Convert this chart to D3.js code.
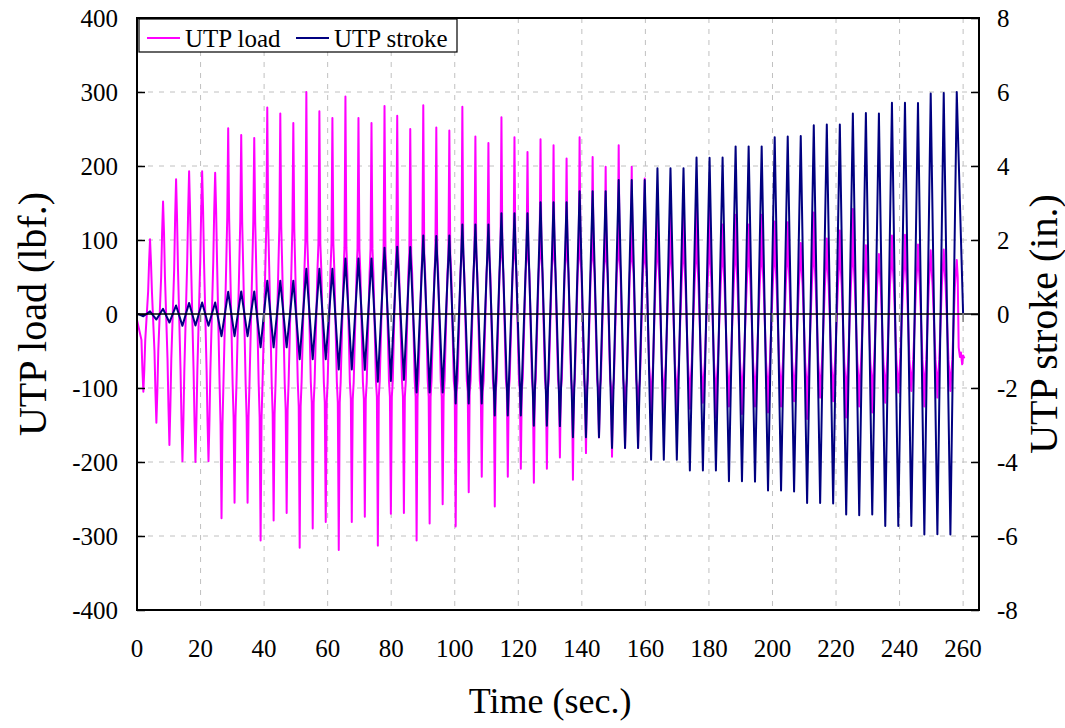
<!DOCTYPE html>
<html>
<head>
<meta charset="utf-8">
<script src="https://cdn.jsdelivr.net/npm/d3@7"></script>
<style>
  body { margin: 0; background: #fff; }
  svg text { font-family: "Liberation Serif", "Times New Roman", serif; fill: #000; }
</style>
</head>
<body>
<svg id="chart"></svg>
<script>
// cycle timing (sec.): stroke troughs and stroke peaks
const troughT = [2.0, 6.1, 10.2, 14.3, 18.4, 22.5, 26.6, 30.7, 34.8, 38.9, 43.0, 47.1, 51.2, 55.3, 59.4, 63.5,
  67.6, 71.7, 75.8, 79.9, 84.0, 88.0, 92.1, 96.2, 100.3, 104.4, 108.5, 112.6, 116.7, 120.8, 124.9, 129.0,
  133.1, 137.2, 141.3, 145.4, 149.5, 153.6, 157.7, 161.8, 165.8, 169.9, 174.0, 178.1, 182.2, 186.3, 190.4,
  194.5, 198.6, 202.7, 206.8, 210.9, 215.0, 219.1, 223.2, 227.3, 231.4, 235.5, 239.6, 243.7, 247.8, 251.9, 256.0];
const peakT = [4.1, 8.2, 12.3, 16.4, 20.5, 24.6, 28.7, 32.8, 36.9, 41.0, 45.1, 49.2, 53.3, 57.4, 61.5, 65.6,
  69.7, 73.8, 77.9, 81.9, 86.0, 90.1, 94.2, 98.3, 102.4, 106.5, 110.6, 114.7, 118.8, 122.9, 127.0, 131.1,
  135.2, 139.3, 143.4, 147.5, 151.6, 155.7, 159.8, 163.8, 167.9, 172.0, 176.1, 180.2, 184.3, 188.4, 192.5,
  196.6, 200.7, 204.8, 208.9, 213.0, 217.1, 221.2, 225.3, 229.4, 233.5, 237.6, 241.7, 245.8, 249.8, 253.9, 258.0];

// UTP stroke (in.) at each trough / peak
const strokeMin = [-0.06, -0.15, -0.23, -0.32, -0.31, -0.32, -0.60, -0.60, -0.60, -0.90, -0.90, -0.90,
  -1.22, -1.22, -1.22, -1.50, -1.50, -1.51, -1.83, -1.81, -1.78, -2.12, -2.12, -2.12, -2.42, -2.42, -2.42,
  -2.74, -2.74, -2.74, -3.02, -3.02, -3.03, -3.33, -3.33, -3.33, -3.62, -3.62, -3.62, -3.94, -3.94, -3.94,
  -4.23, -4.23, -4.23, -4.52, -4.52, -4.53, -4.77, -4.77, -4.80, -5.11, -5.11, -5.12, -5.42, -5.44, -5.42,
  -5.73, -5.73, -5.73, -5.96, -5.95, -5.96];
const strokeMax = [0.07, 0.14, 0.23, 0.30, 0.31, 0.31, 0.60, 0.61, 0.61, 0.90, 0.90, 0.90,
  1.22, 1.22, 1.22, 1.50, 1.50, 1.50, 1.79, 1.82, 1.81, 2.12, 2.11, 2.12, 2.42, 2.42, 2.42,
  2.72, 2.72, 2.72, 3.02, 3.02, 3.02, 3.32, 3.32, 3.32, 3.62, 3.62, 3.62, 3.94, 3.94, 3.94,
  4.23, 4.22, 4.23, 4.53, 4.53, 4.53, 4.78, 4.80, 4.81, 5.10, 5.12, 5.12, 5.42, 5.43, 5.42,
  5.71, 5.71, 5.70, 5.96, 5.97, 6.00];

// UTP load (lbf.) spikes at each trough / peak
const loadMin = [-105, -147, -177, -199, -200, -199, -276, -255, -255, -306, -279, -269, -316, -290, -281, -319,
  -281, -274, -313, -270, -269, -306, -283, -257, -287, -241, -220, -260, -220, -209, -228, -209,
  -194, -224, -188, -167, -193, -181, -181, -160, -150, -145, -128, -120, -140, -125, -135, -125,
  -133, -125, -118, -142, -113, -118, -140, -125, -133, -120, -106, -104, -125, -113, -104];
const loadMax = [101, 152, 182, 193, 193, 191, 251, 242, 238, 279, 271, 258, 300, 274, 265, 294,
  265, 258, 281, 268, 250, 282, 252, 248, 280, 240, 231, 266, 239, 219, 236, 228,
  210, 239, 212, 199, 228, 199, 183, 160, 150, 142, 145, 145, 121, 134, 121, 134,
  125, 124, 96, 137, 102, 113, 142, 93, 81, 106, 107, 94, 86, 87, 73];

// load shoulders next to the spikes (near) and on the plateaus (far)
const posNear = [70, 110, 130, 140, 140, 140, 130, 125, 125, 120, 118, 115, 100, 95, 95, 90,
  88, 88, 85, 85, 82, 82, 80, 80, 80, 78, 78, 78, 76, 75, 76, 75,
  74, 75, 74, 72, 74, 72, 70, 72, 70, 70, 70, 70, 66, 68, 66, 66,
  66, 66, 60, 66, 62, 62, 66, 60, 58, 62, 62, 60, 60, 60, 55];
const posFar = [30, 50, 60, 70, 70, 70, 70, 68, 68, 65, 65, 62, 60, 60, 60, 55,
  55, 55, 55, 55, 55, 55, 55, 55, 55, 55, 55, 55, 55, 55, 55, 55,
  55, 55, 55, 55, 55, 55, 55, 45, 45, 42, 42, 42, 40, 40, 40, 40,
  40, 40, 38, 40, 38, 38, 40, 38, 36, 40, 40, 38, 38, 38, 36];
const negNear = [-75, -105, -125, -145, -145, -145, -150, -140, -140, -140, -135, -130, -125, -120, -120, -120,
  -115, -115, -112, -112, -112, -112, -112, -112, -105, -105, -105, -105, -104, -104, -103, -103,
  -102, -102, -101, -100, -100, -100, -100, -92, -90, -90, -88, -86, -88, -86, -86, -86,
  -86, -85, -84, -86, -84, -84, -86, -84, -84, -84, -82, -80, -82, -80, -80];
const negFar = [-35, -50, -60, -75, -75, -75, -95, -95, -95, -95, -95, -95, -92, -92, -92, -92,
  -92, -92, -90, -90, -90, -90, -90, -90, -90, -90, -90, -88, -88, -88, -88, -88,
  -88, -88, -88, -88, -88, -88, -88, -70, -68, -68, -66, -65, -66, -65, -65, -65,
  -65, -65, -64, -65, -64, -64, -65, -64, -64, -64, -62, -62, -62, -62, -62];

// start and tail of the record
const loadStartT = [0], loadStart = [-8];
const loadEndT = [258.3, 258.6, 259.0, 259.3, 259.7, 260.0, 260.4];
const loadEnd = [50, -45, -58, -52, -68, -56, -60];
const strokeStartT = [0, 0.4], strokeStart = [0, 0];
const strokeEndT = [260.0], strokeEnd = [0];

const xTicks = d3.range(0, 261, 20);
const loadTicks = d3.range(-400, 401, 100);
const strokeTicks = d3.range(-8, 9, 2);

// ---------------------------------------------------------------
const W = 1065, H = 728;
const margin = { top: 18, right: 86, bottom: 118, left: 137 };
const width = W - margin.left - margin.right;
const height = H - margin.top - margin.bottom;
const nearOff = 0.3, farOff = 0.6;   // shoulder spacing around a spike (sec.)
const serif = '"Liberation Serif", "Times New Roman", serif';

const svg = d3.select('#chart').attr('width', W).attr('height', H)
  .attr('font-family', serif);
const g = svg.append('g').attr('transform', `translate(${margin.left},${margin.top})`);

const x = d3.scaleLinear().domain([0, 265]).range([0, width]);
const yL = d3.scaleLinear().domain([-400, 400]).range([height, 0]);
const yR = d3.scaleLinear().domain([-8, 8]).range([height, 0]);

// series points
const loadPts = loadStartT.map((t, i) => [t, loadStart[i]]);
const strokePts = strokeStartT.map((t, i) => [t, strokeStart[i]]);
peakT.forEach(function (tp, k) {
  const tt = troughT[k];
  loadPts.push([tt - farOff, negFar[k]], [tt - nearOff, negNear[k]], [tt, loadMin[k]],
    [tt + nearOff, negNear[k]], [tt + farOff, negFar[k]],
    [tp - farOff, posFar[k]], [tp - nearOff, posNear[k]], [tp, loadMax[k]]);
  if (k < peakT.length - 1) loadPts.push([tp + nearOff, posNear[k]], [tp + farOff, posFar[k]]);
  strokePts.push([tt, strokeMin[k]], [tp, strokeMax[k]]);
});
loadEndT.forEach((t, i) => loadPts.push([t, loadEnd[i]]));
strokeEndT.forEach((t, i) => strokePts.push([t, strokeEnd[i]]));

// dashed grid
g.append('g').selectAll('line').data(xTicks.filter(d => d > 0)).enter().append('line')
  .attr('x1', d => x(d)).attr('x2', d => x(d)).attr('y1', 0).attr('y2', height)
  .attr('stroke', '#c0c0c0').attr('stroke-width', 1).attr('stroke-dasharray', '5,6');
g.append('g').selectAll('line').data(loadTicks.filter(d => d !== 0 && Math.abs(d) < 400)).enter().append('line')
  .attr('x1', 0).attr('x2', width).attr('y1', d => yL(d)).attr('y2', d => yL(d))
  .attr('stroke', '#c0c0c0').attr('stroke-width', 1).attr('stroke-dasharray', '5,6');

// series
const lineL = d3.line().x(d => x(d[0])).y(d => yL(d[1]));
const lineR = d3.line().x(d => x(d[0])).y(d => yR(d[1]));
g.append('path').datum(loadPts).attr('d', lineL)
  .attr('fill', 'none').attr('stroke', '#ff00ff').attr('stroke-width', 2).attr('stroke-linejoin', 'round');
g.append('path').datum(strokePts).attr('d', lineR)
  .attr('fill', 'none').attr('stroke', '#000080').attr('stroke-width', 2).attr('stroke-linejoin', 'round');

// zero line with time ticks
g.append('line').attr('x1', 0).attr('x2', width).attr('y1', yL(0)).attr('y2', yL(0))
  .attr('stroke', '#000').attr('stroke-width', 1.5);
g.append('g').selectAll('line').data(xTicks.filter(d => d > 0)).enter().append('line')
  .attr('x1', d => x(d)).attr('x2', d => x(d)).attr('y1', yL(0) - 1).attr('y2', yL(0) + 8)
  .attr('stroke', '#808080').attr('stroke-width', 1.5);

// left / right axes, ticks inside
const fmt = d => String(d);
const axL = g.append('g')
  .call(d3.axisLeft(yL).tickValues(loadTicks).tickFormat(fmt).tickSizeInner(-8).tickSizeOuter(0).tickPadding(19));
const axR = g.append('g').attr('transform', `translate(${width},0)`)
  .call(d3.axisRight(yR).tickValues(strokeTicks).tickFormat(fmt).tickSizeInner(-8).tickSizeOuter(0).tickPadding(18));
[axL, axR].forEach(function (a) {
  a.attr('font-family', serif).attr('font-size', 25);
  a.select('.domain').remove();
  a.selectAll('line').attr('stroke', '#000').attr('stroke-width', 1.5);
  a.selectAll('text').attr('font-family', serif).attr('font-size', 25).attr('fill', '#000');
});

// frame
g.append('rect').attr('x', 0).attr('y', 0).attr('width', width).attr('height', height)
  .attr('fill', 'none').attr('stroke', '#000').attr('stroke-width', 2);

// x tick labels
g.append('g').selectAll('text').data(xTicks).enter().append('text')
  .attr('x', d => x(d)).attr('y', height + 47).attr('text-anchor', 'middle')
  .attr('font-family', serif).attr('font-size', 25).text(fmt);

// titles
svg.append('text').attr('x', margin.left + x(130)).attr('y', 713).attr('text-anchor', 'middle')
  .attr('font-size', 36).text('Time (sec.)');
svg.append('text').attr('transform', `translate(46,${margin.top + height / 2}) rotate(-90)`)
  .attr('text-anchor', 'middle').attr('font-size', 40).text('UTP load (lbf.)');
svg.append('text').attr('transform', `translate(1057,${margin.top + height / 2 + 10}) rotate(-90)`)
  .attr('text-anchor', 'middle').attr('font-size', 40).text('UTP stroke (in.)');

// legend
const lg = g.append('g').attr('transform', 'translate(2,1)');
lg.append('rect').attr('width', 318).attr('height', 33).attr('fill', '#fff')
  .attr('stroke', '#000').attr('stroke-width', 1.2);
const items = [['UTP load', '#ff00ff', 8], ['UTP stroke', '#000080', 157]];
items.forEach(function (it) {
  lg.append('line').attr('x1', it[2]).attr('x2', it[2] + 33).attr('y1', 19).attr('y2', 19)
    .attr('stroke', it[1]).attr('stroke-width', 2);
  lg.append('text').attr('x', it[2] + 38).attr('y', 28).attr('font-size', 25).text(it[0]);
});
</script>
</body>
</html>
